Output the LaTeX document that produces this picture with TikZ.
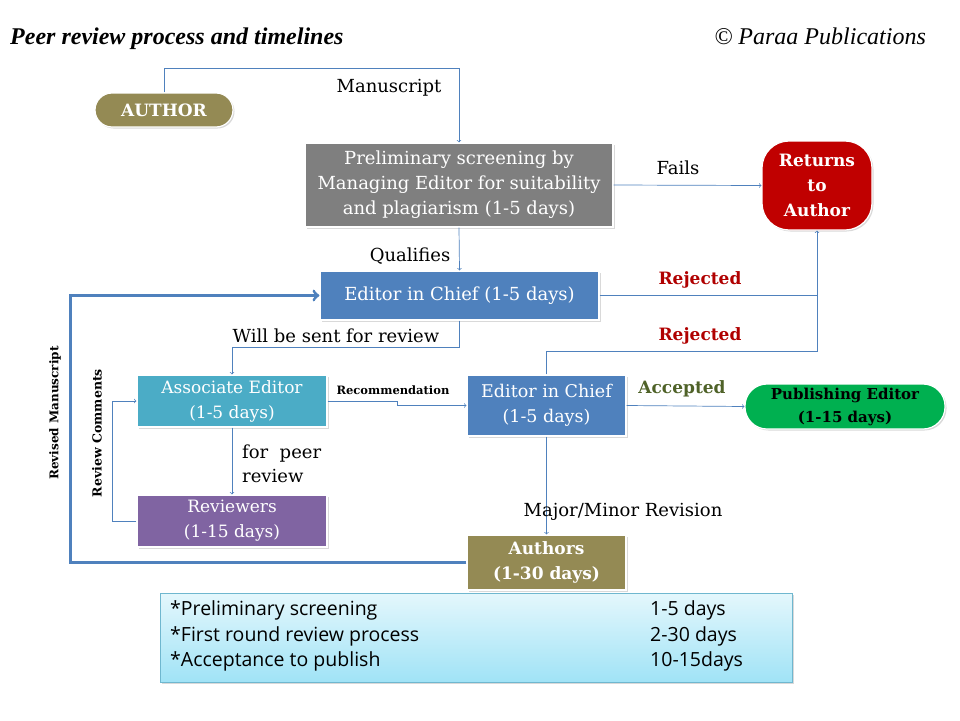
\documentclass[tikz,border=0pt]{standalone}
\usepackage{fontspec}
\setmainfont{DejaVu Serif}
\newfontfamily\titlefont{Liberation Serif}
\newfontfamily\notefont{Open Sans}
\usepackage{tikz}
\usetikzlibrary{shadows}
\definecolor{linkblue}{HTML}{4F81BD}
\definecolor{screengray}{HTML}{7F7F7F}
\definecolor{chiefblue}{HTML}{4F81BD}
\definecolor{assocteal}{HTML}{4BACC6}
\definecolor{reviewpurple}{HTML}{8064A2}
\definecolor{authorolive}{HTML}{948A54}
\definecolor{returnred}{HTML}{C00000}
\definecolor{pubgreen}{HTML}{00B050}
\definecolor{rejectred}{HTML}{B00000}
\definecolor{acceptgreen}{HTML}{4F6228}
\definecolor{notetop}{HTML}{E4F7FC}
\definecolor{notebottom}{HTML}{A0E3F6}
\definecolor{noteline}{HTML}{6FB7CF}
\tikzset{box/.style={draw=white, line width=1.2pt, inner sep=0pt, text=white, align=center, font=\fontsize{18}{25}\selectfont, drop shadow={opacity=0.3, shadow xshift=1.5pt, shadow yshift=-1.5pt}}}
\tikzset{link/.style={draw=linkblue, line width=0.7pt}}
\tikzset{fatlink/.style={draw=linkblue, line width=3pt}}
\tikzset{lbl/.style={inner sep=0pt, font=\fontsize{18}{24}\selectfont}}
\tikzset{boldlbl/.style={inner sep=0pt, font=\fontsize{17}{22}\selectfont\bfseries}}

\begin{document}
\begin{tikzpicture}[x=1pt, y=-1pt]
\useasboundingbox (0,0) rectangle (960,720);

\node [anchor=base west, inner sep=0pt, font=\titlefont\fontsize{24}{28}\selectfont\bfseries\itshape] (title) at (10,44) {Peer review process and timelines};
\node [anchor=base east, inner sep=0pt, font=\titlefont\fontsize{24}{28}\selectfont\itshape] (owner) at (926,44) {© Paraa Publications};

% boxes
\node [box, fill=authorolive, rounded corners=17pt, minimum width=138pt, minimum height=34pt, font=\fontsize{17}{22}\selectfont\bfseries] (author) at (164,110) {AUTHOR};
\node [box, fill=screengray, minimum width=308pt, minimum height=84pt] (screen) at (459,185) {Preliminary screening by\\Managing Editor for suitability\\and plagiarism (1-5 days)};
\node [box, fill=returnred, rounded corners=27pt, minimum width=110pt, minimum height=89pt, font=\fontsize{17}{25}\selectfont\bfseries] (returns) at (817,185.5) {Returns\\to\\Author};
\node [box, fill=chiefblue, minimum width=279pt, minimum height=49pt] (chief) at (459.5,295.5) {Editor in Chief (1-5 days)};
\node [box, fill=assocteal, minimum width=190pt, minimum height=52pt, font=\fontsize{17}{25}\selectfont] (assoc) at (232,401) {Associate Editor\\(1-5 days)};
\node [box, fill=chiefblue, minimum width=159pt, minimum height=61pt, font=\fontsize{17.5}{25}\selectfont] (chief2) at (546.5,405.5) {Editor in Chief\\(1-5 days)};
\node [box, fill=pubgreen, text=black, rounded corners=22pt, minimum width=200pt, minimum height=45pt, font=\fontsize{15}{23}\selectfont\bfseries] (pub) at (845,406.5) {Publishing Editor\\(1-15 days)};
\node [box, fill=reviewpurple, minimum width=190pt, minimum height=52pt, font=\fontsize{17}{25}\selectfont] (reviewers) at (232,521) {Reviewers\\(1-15 days)};
\node [box, fill=authorolive, minimum width=159pt, minimum height=55pt, font=\fontsize{17}{25}\selectfont\bfseries] (authors) at (546.5,562.5) {Authors\\(1-30 days)};

% connectors
\draw [link,->] (author.north) -- ++(0,-24) -| (screen.north);
\draw [link,->] (screen.east) -- (returns.west);
\draw [link,->] (screen.south) -- (chief.north);
\draw [link] (chief2.north) -- ++(0,-23) -| (returns.south);
\draw [link,->] (chief.east) -| (returns.south);
\draw [link,->] (chief.south) -- ++(0,27) -| (assoc.north);
\draw [link,->] (assoc.east) -- ++(70,0) |- (chief2.west);
\draw [link,->] (chief2.east) -- (pub.west);
\draw [link,->] (assoc.south) -- (reviewers.north);
\draw [link,->] (reviewers.west) -- ++(-24,0) |- (assoc.west);
\draw [link,->] (chief2.south) -- (authors.north);
\draw [fatlink,->] (authors.west) -- ++(-396,0) |- (chief.west);

% labels
\node [lbl] (manuscript) at (389,88) {Manuscript};
\node [lbl] (fails) at (678,168) {Fails};
\node [lbl] (qualifies) at (410,256) {Qualifies};
\node [boldlbl, text=rejectred] (reject1) at (700,280) {Rejected};
\node [boldlbl, text=rejectred] (reject2) at (700,336) {Rejected};
\node [lbl] (sent) at (336,336) {Will be sent for review};
\node [inner sep=0pt, font=\fontsize{11.5}{14}\selectfont\bfseries] (recommend) at (393,390) {Recommendation};
\node [boldlbl, text=acceptgreen] (accepted) at (682,389) {Accepted};
\node [lbl, anchor=west, align=left] (peer) at (242,464) {for~ peer\\review};
\node [lbl] (revision) at (623,512) {Major/Minor Revision};
\node [inner sep=0pt, rotate=90, font=\fontsize{12.5}{15}\selectfont\bfseries] (comments) at (97,433) {Review Comments};
\node [inner sep=0pt, rotate=90, font=\fontsize{12}{15}\selectfont\bfseries] (revised) at (55,413) {Revised Manuscript};

% timeline summary
\node [draw=noteline, line width=0.8pt, top color=notetop, bottom color=notebottom, minimum width=632pt, minimum height=89pt, drop shadow={opacity=0.3, shadow xshift=1.5pt, shadow yshift=-1.5pt}] (note) at (476,637.5) {};
\foreach \y/\what/\days in {610/Preliminary screening/1-5 days, 636/First round review process/2-30 days, 661/Acceptance to publish/10-15days} {
  \node [anchor=west, inner sep=0pt, font=\notefont\fontsize{19.5}{22}\selectfont] at (170,\y) {*\what};
  \node [anchor=west, inner sep=0pt, font=\notefont\fontsize{19.5}{22}\selectfont] at (650,\y) {\days};
}

\end{tikzpicture}
\end{document}
